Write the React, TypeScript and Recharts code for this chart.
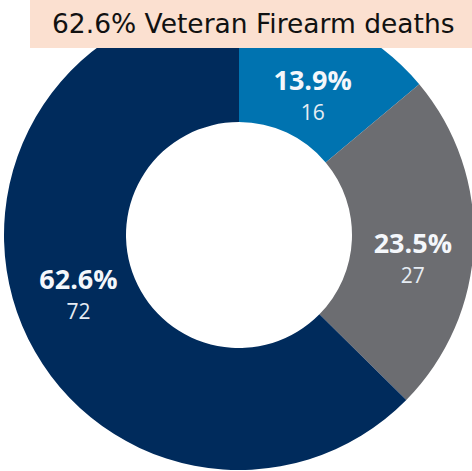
import React from "react";
import { PieChart, Pie, Cell } from "recharts";

const categories = ["Other A", "Other B", "Veteran Firearm"];
const counts = [16, 27, 72];
const percentLabels = ["13.9%", "23.5%", "62.6%"];
const colors = ["#0073b0", "#6c6d71", "#002b5c"];
const titleText = "62.6% Veteran Firearm deaths";

const labelShiftY = [14, 12, -12];

const data = categories.map((name, i) => ({
  name,
  value: counts[i],
  pct: percentLabels[i],
}));

const RAD = Math.PI / 180;

const renderLabel = (props: any) => {
  const { cx, cy, midAngle, innerRadius, outerRadius, index } = props;
  const r = (innerRadius + outerRadius) / 2;
  const x = cx + r * Math.cos(-midAngle * RAD);
  const y = cy + r * Math.sin(-midAngle * RAD) + labelShiftY[index];
  return (
    <g>
      <text
        x={x}
        y={y - 1}
        textAnchor="middle"
        fill="#f4f7fb"
        fontFamily="'Open Sans', sans-serif"
        fontWeight={700}
        fontSize={27}
      >
        {percentLabels[index]}
      </text>
      <text
        x={x}
        y={y + 29}
        textAnchor="middle"
        fill="#e6ecf3"
        fontFamily="'Open Sans', sans-serif"
        fontSize={21}
      >
        {counts[index]}
      </text>
    </g>
  );
};

export default function App() {
  return (
    <div
      style={{
        position: "absolute",
        left: 0,
        top: 0,
        width: 472,
        height: 471,
        background: "#ffffff",
        overflow: "hidden",
      }}
    >
      <PieChart width={472} height={471} margin={{ top: 0, right: 0, bottom: 0, left: 0 }}>
        <Pie
          data={data}
          dataKey="value"
          cx={239}
          cy={235}
          innerRadius={113}
          outerRadius={235}
          startAngle={90}
          endAngle={-270}
          stroke="none"
          labelLine={false}
          label={renderLabel}
          isAnimationActive={false}
        >
          {data.map((d, i) => (
            <Cell key={d.name} fill={colors[i]} />
          ))}
        </Pie>
      </PieChart>
      <div
        style={{
          position: "absolute",
          left: 30,
          top: 0,
          width: 442,
          height: 48,
          background: "#fbe0d0",
          fontFamily: "'DejaVu Sans', sans-serif",
          fontSize: 26.5,
          color: "#111111",
          lineHeight: "48px",
          paddingLeft: 22,
          boxSizing: "border-box",
          whiteSpace: "nowrap",
          zIndex: 2,
        }}
      >
        {titleText}
      </div>
    </div>
  );
}
